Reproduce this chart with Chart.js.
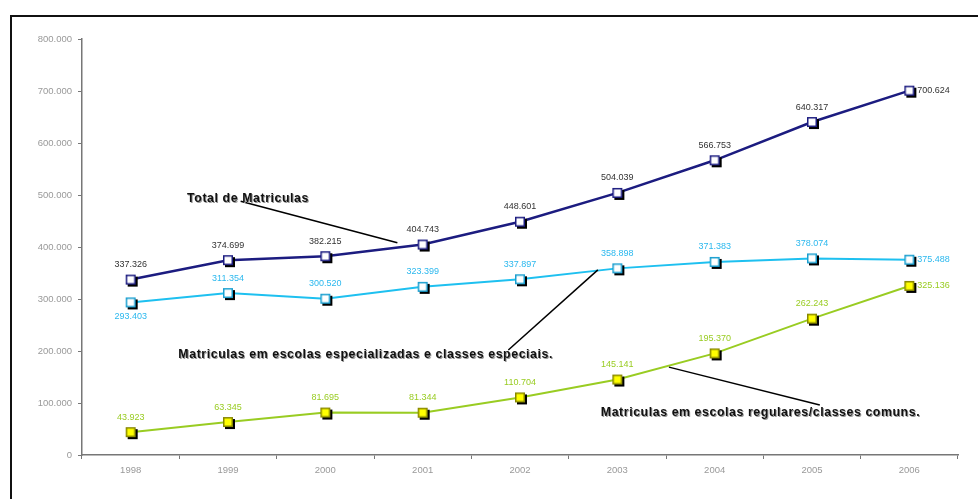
<!DOCTYPE html>
<html lang="pt">
<head>
<meta charset="UTF-8">
<title>Matriculas</title>
<script src="https://cdn.jsdelivr.net/npm/chart.js"></script>
<style>
  html, body { margin: 0; padding: 0; background: #fff; }
  #wrap { width: 978px; height: 499px; }
</style>
</head>
<body>
<div id="wrap"><canvas id="chart" width="978" height="499"></canvas></div>
<script>
// data
const years = ['1998', '1999', '2000', '2001', '2002', '2003', '2004', '2005', '2006'];
const total = [337326, 374699, 382215, 404743, 448601, 504039, 566753, 640317, 700624];
const especiais = [293403, 311354, 300520, 323399, 337897, 358898, 371383, 378074, 375488];
const comuns = [43923, 63345, 81695, 81344, 110704, 145141, 195370, 262243, 325136];
const yTicks = [0, 100000, 200000, 300000, 400000, 500000, 600000, 700000, 800000];

// callout texts, anchored in data space (category index, value)
const callouts = [
  { text: 'Total de Matriculas', at: [0.58, 494000], from: [1.13, 488000], to: [2.74, 408000] },
  { text: 'Matriculas em escolas especializadas e classes especiais.', at: [0.49, 194000], from: [3.88, 202000], to: [4.80, 356000] },
  { text: 'Matriculas em escolas regulares/classes comuns.', at: [4.83, 81000], from: [5.53, 169000], to: [7.08, 96000] }
];

function fmt(v) {
  return String(v).replace(/\B(?=(\d{3})+(?!\d))/g, '.');
}

// square marker with a drop shadow
function marker(fill, border) {
  const c = document.createElement('canvas');
  c.width = 16; c.height = 16;
  const g = c.getContext('2d');
  g.fillStyle = '#000';
  g.fillRect(5, 5, 10, 10);
  g.fillStyle = fill;
  g.fillRect(3, 3, 10, 10);
  g.strokeStyle = border;
  g.lineWidth = 1.5;
  g.strokeRect(3.75, 3.75, 8.5, 8.5);
  return c;
}

const frame = {
  id: 'frame',
  beforeDraw(chart) {
    const ctx = chart.ctx;
    ctx.save();
    ctx.fillStyle = '#fff';
    ctx.fillRect(0, 0, chart.width, chart.height);
    ctx.strokeStyle = '#111';
    ctx.lineWidth = 2;
    ctx.strokeRect(11, 16, 1000, 1000);
    ctx.restore();
  }
};

// value labels: above the point, last one to the right
const labelPos = {
  0: { below: [] },
  1: { below: [0] },
  2: { below: [] }
};
const valueLabels = {
  id: 'valueLabels',
  afterDatasetsDraw(chart) {
    const ctx = chart.ctx;
    ctx.save();
    ctx.font = '9px "Liberation Sans", Arial, sans-serif';
    chart.data.datasets.forEach((ds, di) => {
      const meta = chart.getDatasetMeta(di);
      ctx.fillStyle = ds.labelColor;
      meta.data.forEach((pt, i) => {
        const txt = fmt(ds.data[i]);
        ctx.textBaseline = 'middle';
        if (i === ds.data.length - 1) {
          ctx.textAlign = 'left';
          ctx.fillText(txt, pt.x + 8, pt.y);
        } else if (labelPos[di].below.includes(i)) {
          ctx.textAlign = 'center';
          ctx.fillText(txt, pt.x, pt.y + 14);
        } else {
          ctx.textAlign = 'center';
          ctx.fillText(txt, pt.x, pt.y - 15);
        }
      });
    });
    ctx.restore();
  }
};

const calloutPlugin = {
  id: 'callouts',
  afterDatasetsDraw(chart) {
    const ctx = chart.ctx;
    const xs = chart.scales.x, ys = chart.scales.y;
    const px = p => [xs.getPixelForValue(p[0]), ys.getPixelForValue(p[1])];
    ctx.save();
    callouts.forEach(c => {
      const a = px(c.from), b = px(c.to);
      ctx.strokeStyle = '#000';
      ctx.lineWidth = 1.5;
      ctx.beginPath();
      ctx.moveTo(a[0], a[1]);
      ctx.lineTo(b[0], b[1]);
      ctx.stroke();
    });
    ctx.font = 'bold 12.3px "Liberation Sans", Arial, sans-serif';
    ctx.letterSpacing = '0.6px';
    ctx.textAlign = 'left';
    ctx.textBaseline = 'middle';
    callouts.forEach(c => {
      const p = px(c.at);
      ctx.fillStyle = '#999';
      ctx.fillText(c.text, p[0] + 1, p[1] + 1);
      ctx.fillStyle = '#111';
      ctx.fillText(c.text, p[0], p[1]);
    });
    ctx.restore();
  }
};

new Chart(document.getElementById('chart'), {
  type: 'line',
  data: {
    labels: years,
    datasets: [
      {
        label: 'Total de Matriculas',
        data: total,
        borderColor: '#1c1c80',
        borderWidth: 2.5,
        labelColor: '#333',
        pointStyle: marker('#fff', '#1c1c80'),
        pointRadius: 6
      },
      {
        label: 'Matriculas em escolas especializadas e classes especiais',
        data: especiais,
        borderColor: '#1ec0f0',
        borderWidth: 2,
        labelColor: '#2bb8ee',
        pointStyle: marker('#fff', '#1a9fd0'),
        pointRadius: 6
      },
      {
        label: 'Matriculas em escolas regulares/classes comuns',
        data: comuns,
        borderColor: '#99cc22',
        borderWidth: 2,
        labelColor: '#99cc22',
        pointStyle: marker('#ffff00', '#888800'),
        pointRadius: 6
      }
    ]
  },
  options: {
    responsive: false,
    animation: false,
    layout: { padding: { left: 0, right: 20, top: 39, bottom: 0 } },
    scales: {
      x: {
        offset: true,
        grid: { display: true, drawOnChartArea: false, offset: true, tickLength: 4, color: '#777' },
        border: { color: '#777', width: 1.5 },
        ticks: { color: '#999', font: { size: 9.5, family: '"Liberation Sans", Arial' }, padding: 6, maxRotation: 0 },
        afterFit(scale) { scale.height = 44; }
      },
      y: {
        min: 0,
        max: 800000,
        afterBuildTicks(scale) { scale.ticks = yTicks.map(v => ({ value: v })); },
        grid: { display: true, drawOnChartArea: false, tickLength: 4, color: '#777' },
        border: { color: '#777', width: 1.5 },
        ticks: {
          color: '#999',
          font: { size: 9.5, family: '"Liberation Sans", Arial' },
          padding: 6,
          callback: v => fmt(v)
        },
        afterFit(scale) { scale.width = 82; }
      }
    },
    plugins: {
      legend: { display: false },
      tooltip: { enabled: false }
    }
  },
  plugins: [frame, valueLabels, calloutPlugin]
});
</script>
</body>
</html>
